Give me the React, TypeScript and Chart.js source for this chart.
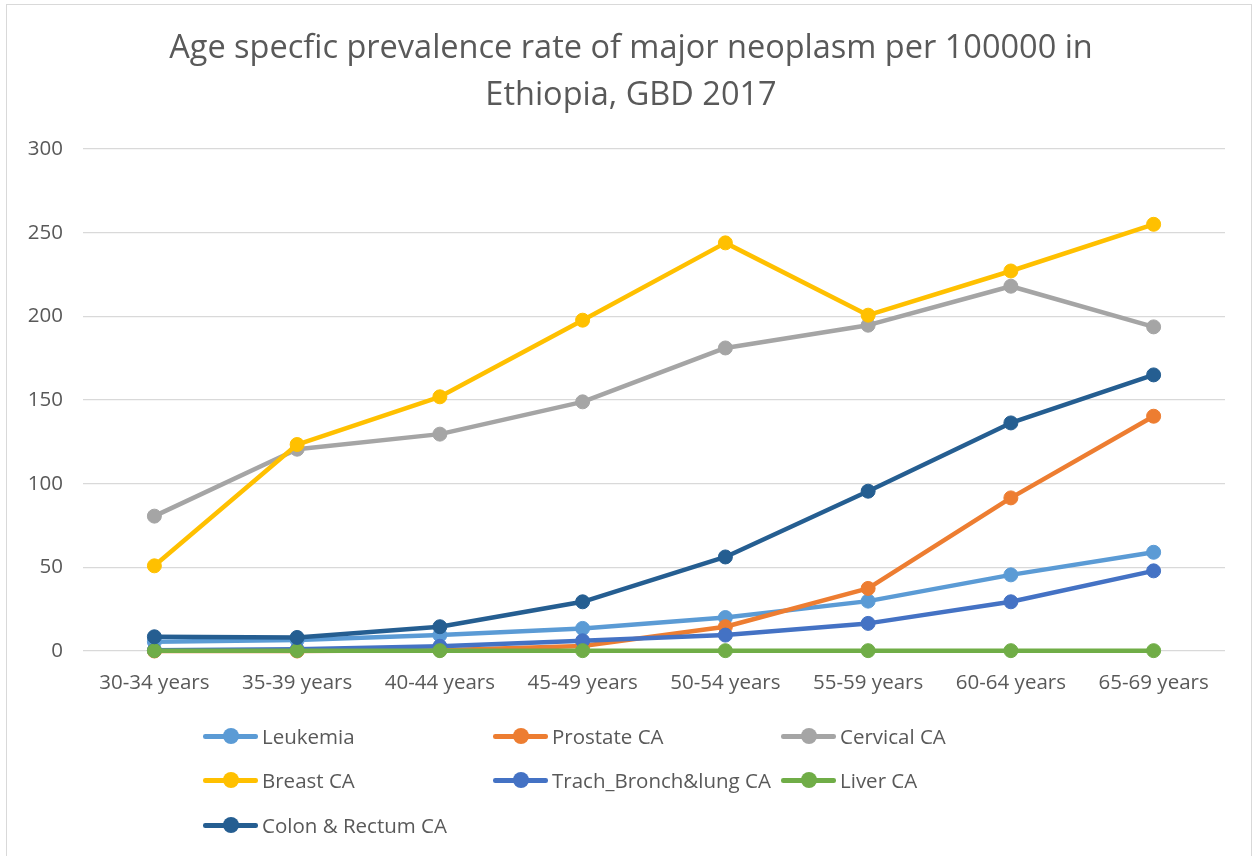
import React, { useEffect, useRef } from "react";
import { Chart, registerables } from "chart.js";

Chart.register(...registerables);

const categories = [
  "30-34 years",
  "35-39 years",
  "40-44 years",
  "45-49 years",
  "50-54 years",
  "55-59 years",
  "60-64 years",
  "65-69 years",
];

const leukemia = [5.5, 6.5, 9.5, 13.5, 20, 29.8, 45.5, 59];
const prostate = [0, 0, 0.5, 3, 14.5, 37.4, 91.5, 140.3];
const cervical = [80.6, 120.6, 129.6, 148.9, 181.1, 194.7, 218, 193.7];
const breast = [50.9, 123.4, 151.9, 197.7, 243.9, 200.7, 227.1, 255];
const lung = [0.5, 1, 2.8, 6.1, 9.5, 16.5, 29.4, 47.9];
const liver = [0.2, 0.2, 0.2, 0.2, 0.2, 0.2, 0.2, 0.2];
const colon = [8.5, 8.1, 14.5, 29.4, 56.2, 95.5, 136.3, 165];

const seriesNames = [
  "Leukemia",
  "Prostate CA",
  "Cervical CA",
  "Breast CA",
  "Trach_Bronch&lung CA",
  "Liver CA",
  "Colon & Rectum CA",
];
const seriesColors = [
  "#5B9BD5",
  "#ED7D31",
  "#A5A5A5",
  "#FFC000",
  "#4472C4",
  "#70AD47",
  "#255E91",
];

const yTicks = [0, 50, 100, 150, 200, 250, 300];

const titleLines = [
  "Age specfic prevalence rate of major neoplasm per 100000 in",
  "Ethiopia, GBD 2017",
];

const FONT = "'Open Sans', 'Noto Sans', sans-serif";
const TEXT = "#595959";

const legendCols = [203, 493, 781];
const legendRows = [736, 780, 825];

export default function App() {
  const ref = useRef<HTMLCanvasElement>(null);

  useEffect(() => {
    const series = [leukemia, prostate, cervical, breast, lung, liver, colon];
    const chart = new Chart(ref.current as HTMLCanvasElement, {
      type: "line",
      data: {
        labels: categories,
        datasets: series.map((d, i) => ({
          label: seriesNames[i],
          data: d,
          borderColor: seriesColors[i],
          backgroundColor: seriesColors[i],
          pointBackgroundColor: seriesColors[i],
          pointBorderColor: seriesColors[i],
          borderWidth: 4.5,
          pointRadius: 7,
          pointHoverRadius: 7,
          pointBorderWidth: 1,
          tension: 0,
          clip: false as const,
          borderJoinStyle: "round" as const,
          borderCapStyle: "round" as const,
          order: series.length - 1 - i,
        })),
      },
      options: {
        responsive: false,
        animation: false,
        layout: { padding: { left: 23, right: 28, top: 149, bottom: 155 } },
        plugins: {
          legend: { display: false },
          title: { display: false },
          tooltip: { enabled: false },
        },
        scales: {
          x: {
            offset: true,
            grid: { display: false, drawTicks: false },
            border: { display: false },
            ticks: {
              color: TEXT,
              font: { family: FONT, size: 20.5 },
              padding: 20,
              maxRotation: 0,
              autoSkip: false,
            },
            afterFit: (s: any) => {
              s.height = 50;
            },
          },
          y: {
            min: yTicks[0],
            max: yTicks[yTicks.length - 1],
            ticks: {
              stepSize: yTicks[1] - yTicks[0],
              color: TEXT,
              font: { family: FONT, size: 20.5 },
              padding: 20,
            },
            grid: { color: "#d9d9d9", lineWidth: 1.3, drawTicks: false },
            border: { display: false },
            afterFit: (s: any) => {
              s.width = 60;
            },
          },
        },
      },
    });
    return () => chart.destroy();
  }, []);

  return (
    <div
      style={{
        position: "absolute",
        left: 0,
        top: 0,
        width: 1253,
        height: 856,
        overflow: "hidden",
        background: "#ffffff",
        fontFamily: FONT,
      }}
    >
      <div
        style={{
          position: "absolute",
          left: 6,
          top: 4,
          width: 1246,
          height: 900,
          border: "1.5px solid #d9d9d9",
          boxSizing: "border-box",
        }}
      />
      <canvas
        ref={ref}
        width={1253}
        height={856}
        style={{ position: "absolute", left: 0, top: 0, width: 1253, height: 856 }}
      />
      <div
        style={{
          position: "absolute",
          left: 0,
          top: 22,
          width: 1262,
          textAlign: "center",
          fontSize: 32.5,
          lineHeight: "47px",
          color: TEXT,
        }}
      >
        {titleLines.map((t, i) => (
          <div key={i}>{t}</div>
        ))}
      </div>
      {seriesNames.map((name, i) => {
        const col = i % 3;
        const row = Math.floor(i / 3);
        return (
          <div
            key={name}
            style={{
              position: "absolute",
              left: legendCols[col],
              top: legendRows[row] - 14,
              height: 28,
              display: "flex",
              alignItems: "center",
              whiteSpace: "nowrap",
            }}
          >
            <span
              style={{
                position: "relative",
                width: 55,
                height: 28,
                display: "inline-block",
              }}
            >
              <span
                style={{
                  position: "absolute",
                  left: 0,
                  top: 12,
                  width: 55,
                  height: 4.5,
                  borderRadius: 2.25,
                  background: seriesColors[i],
                }}
              />
              <span
                style={{
                  position: "absolute",
                  left: 19.5,
                  top: 6,
                  width: 16,
                  height: 16,
                  borderRadius: "50%",
                  background: seriesColors[i],
                }}
              />
            </span>
            <span style={{ marginLeft: 4, fontSize: 20.5, color: TEXT }}>{name}</span>
          </div>
        );
      })}
    </div>
  );
}
